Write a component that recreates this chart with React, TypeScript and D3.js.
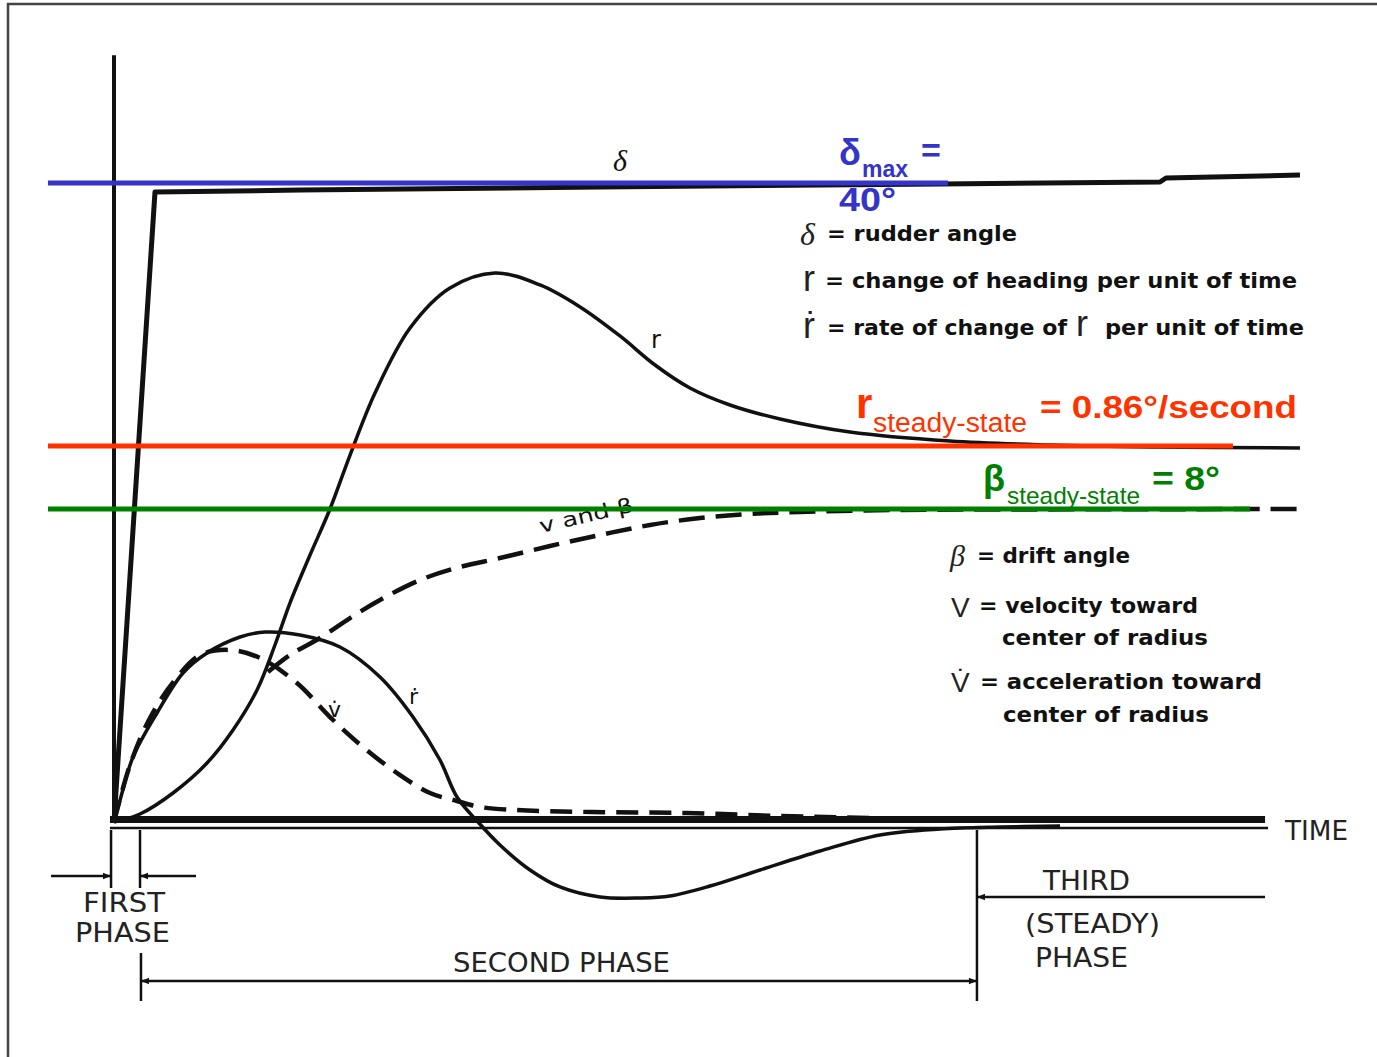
import React from 'react';
import * as d3 from 'd3';

const W = 1377;
const H = 1057;

// time (s, 0..100) and response in % of full scale (rudder max = 100)
const rudderT = [0, 3.45, 15.66, 40.91, 69.53, 88.05, 88.55, 99.83];
const rudderV = [0, 98.59, 98.9, 99.37, 99.84, 100.16, 100.78, 101.25];

const rT = [0, 2.19, 4.97, 7.83, 10.02, 12.04, 13.55, 14.81, 16.5, 18.18, 19.87, 21.97, 24.92, 28.28, 32.07, 35.86, 39.23, 42.59, 45.54, 48.48, 51.85, 56.06, 61.95, 70.37, 78.79, 87.21, 99.83];
const rV = [0, 1.25, 4.54, 9.23, 14.4, 20.66, 27.7, 34.27, 41.78, 48.98, 57.43, 67.14, 77.31, 83.57, 85.92, 84.04, 80.6, 76.06, 71.52, 67.92, 65.26, 63.07, 61.03, 59.62, 59.0, 58.69, 58.53];

const rDotT = [0, 0.51, 1.6, 3.62, 5.81, 7.83, 10.61, 12.71, 15.66, 19.02, 22.39, 25.17, 27.44, 28.87, 30.64, 32.49, 35.02, 37.54, 40.91, 44.28, 46.8, 50.17, 54.38, 59.43, 64.48, 69.53, 74.58, 79.63];
const rDotV = [0, 3.44, 10.17, 17.06, 23.32, 26.45, 28.95, 29.73, 29.26, 27.39, 22.69, 16.43, 9.7, 3.91, 0, -3.6, -7.51, -10.17, -11.74, -11.89, -11.58, -10.02, -7.51, -4.54, -2.03, -1.1, -0.78, -0.63];

const vDotT = [0, 1.35, 3.03, 5.13, 7.24, 9.76, 12.29, 15.4, 18.18, 20.96, 23.82, 26.6, 28.87, 30.81, 33.75, 40.24, 48.23, 56.06, 63.64, 71.21];
const vDotV = [0, 8.92, 16.28, 22.22, 26.13, 26.92, 25.67, 21.75, 16.43, 11.74, 7.67, 4.54, 3.29, 2.35, 1.88, 1.56, 1.41, 0.94, 0.63, 0.47];

const vBetaT = [12.96, 14.81, 17.34, 19.87, 22.39, 25.76, 29.12, 32.49, 36.7, 40.91, 45.12, 49.33, 53.54, 57.74, 66.16, 74.58, 99.83];
const vBetaV = [23.47, 26.13, 28.8, 31.92, 34.74, 37.87, 39.91, 41.31, 43.19, 44.91, 46.48, 47.57, 48.2, 48.51, 48.83, 48.9, 48.98];

// steady-state reference lines: level, start time, end time
const refLevels = [100, 58.84, 48.98];
const refStart = [-5.56, -5.56, -5.56];
const refEnd = [70.2, 94.19, 95.62];
const refColors = ['#3434c8', '#ff3300', '#008000'];

// phase boundaries (time)
const phaseT = [-0.25, 2.19, 2.27, 72.64];
const axisT = [-0.34, 96.89];
const yAxisTop = 120;

export default function App() {
  const x = d3.scaleLinear().domain([0, 100]).range([114, 1302]);
  const y = d3.scaleLinear().domain([0, 100]).range([822, 183]);

  const mk = (ts: number[], vs: number[], curve: any = d3.curveCatmullRom.alpha(0.5)) =>
    d3
      .line<number>()
      .x((i) => x(ts[i]))
      .y((i) => y(vs[i]))
      .curve(curve)(ts.map((_, i) => i)) as string;

  const base = y(0);
  const ink = '#111';

  return (
    <svg
      width={W}
      height={H}
      viewBox={`0 0 ${W} ${H}`}
      style={{ position: 'absolute', left: 0, top: 0, background: '#fff' }}
    >
      <defs>
        <marker id="arr" viewBox="0 0 10 10" refX="10" refY="5" markerWidth="12" markerHeight="8" markerUnits="userSpaceOnUse" orient="auto-start-reverse">
          <path d="M0,1 L10,5 L0,9 z" fill={ink} />
        </marker>
      </defs>
      <rect x={0} y={0} width={W} height={H} fill="#fff" />
      {/* frame */}
      <line x1={8} y1={3} x2={8} y2={H} stroke="#444" strokeWidth={2.5} />
      <line x1={7} y1={4} x2={W} y2={4} stroke="#444" strokeWidth={2.5} />

      {/* axes */}
      <line x1={x(0)} y1={y(yAxisTop)} x2={x(0)} y2={base} stroke={ink} strokeWidth={4} />
      <line x1={x(axisT[0])} y1={base - 2.5} x2={x(axisT[1])} y2={base - 2.5} stroke={ink} strokeWidth={7} />
      <line x1={x(axisT[0])} y1={base + 6} x2={x(axisT[1]) + 3} y2={base + 6} stroke={ink} strokeWidth={2.5} />

      {/* curves */}
      <path d={mk(rudderT, rudderV, d3.curveLinear)} fill="none" stroke={ink} strokeWidth={5} strokeLinejoin="round" />
      <path d={mk(rT, rV)} fill="none" stroke={ink} strokeWidth={3.5} />
      <path d={mk(rDotT, rDotV)} fill="none" stroke={ink} strokeWidth={3.5} />
      <path d={mk(vDotT, vDotV)} fill="none" stroke={ink} strokeWidth={4.5} strokeDasharray="22 11" />
      <path d={mk(vBetaT, vBetaV)} fill="none" stroke={ink} strokeWidth={4.5} strokeDasharray="26 11" />

      {/* curve labels */}
      <text x={613} y={171} fontFamily="Liberation Serif" fontStyle="italic" fontSize={30} fill={ink}>δ</text>
      <text x={651} y={348} fontFamily="DejaVu Sans" fontSize={24} fill={ink}>r</text>
      <text x={409} y={704} fontFamily="DejaVu Sans" fontSize={22} fill={ink}>ṙ</text>
      <text x={328} y={717} fontFamily="DejaVu Sans" fontSize={22} fill={ink}>v̇</text>
      <text x={541} y={533} fontFamily="DejaVu Sans" fontSize={20} fill={ink} transform="rotate(-13 541 533)" textLength={96} lengthAdjust="spacingAndGlyphs">v and β</text>

      {/* reference lines */}
      {refLevels.map((lv, i) => (
        <line key={i} x1={x(refStart[i])} x2={x(refEnd[i])} y1={y(lv)} y2={y(lv)} stroke={refColors[i]} strokeWidth={5} />
      ))}

      {/* colored annotations */}
      <g fontFamily="Liberation Sans, Arial, sans-serif" fontWeight="bold">
        <text x={839} y={165} fontSize={36} fill={refColors[0]}>δ</text>
        <text x={862} y={177} fontSize={23} fill={refColors[0]}>max</text>
        <text x={921} y={162} fontSize={34} fill={refColors[0]}>=</text>
        <text x={839} y={211} fontSize={33} fill={refColors[0]} textLength={57} lengthAdjust="spacingAndGlyphs">40°</text>

        <text x={856} y={418} fontSize={42} fill={refColors[1]}>r</text>
        <text x={873} y={432} fontSize={27} fontWeight="normal" fill={refColors[1]} textLength={154} lengthAdjust="spacingAndGlyphs">steady-state</text>
        <text x={1040} y={418} fontSize={32} fill={refColors[1]} textLength={257} lengthAdjust="spacingAndGlyphs">= 0.86°/second</text>

        <text x={983} y={491} fontSize={36} fill={refColors[2]}>β</text>
        <text x={1007} y={504} fontSize={24} fontWeight="normal" fill={refColors[2]} textLength={133} lengthAdjust="spacingAndGlyphs">steady-state</text>
        <text x={1152} y={490} fontSize={33} fill={refColors[2]} textLength={68} lengthAdjust="spacingAndGlyphs">= 8°</text>
      </g>

      {/* legend symbols */}
      <g fill="#222">
        <text x={800} y={245} fontFamily="Liberation Serif" fontStyle="italic" fontSize={32}>δ</text>
        <text x={803} y={291} fontFamily="Liberation Sans" fontSize={36}>r</text>
        <text x={803} y={338} fontFamily="Liberation Sans" fontSize={36}>ṙ</text>
        <text x={1076} y={336} fontFamily="Liberation Sans" fontSize={36}>r</text>
        <text x={950} y={566} fontFamily="Liberation Serif" fontStyle="italic" fontSize={30}>β</text>
        <text x={951} y={617} fontFamily="Liberation Sans" fontSize={28}>V</text>
        <text x={951} y={692} fontFamily="Liberation Sans" fontSize={28}>V̇</text>
      </g>

      {/* legend text */}
      <g fontFamily="DejaVu Sans, Verdana, sans-serif" fontWeight="bold" fontSize={22} fill={ink}>
        <text x={827} y={241} textLength={190} lengthAdjust="spacingAndGlyphs">= rudder angle</text>
        <text x={825} y={288} textLength={472} lengthAdjust="spacingAndGlyphs">= change of heading per unit of time</text>
        <text x={827} y={335} textLength={240} lengthAdjust="spacingAndGlyphs">= rate of change of</text>
        <text x={1105} y={335} textLength={199} lengthAdjust="spacingAndGlyphs">per unit of time</text>
        <text x={977} y={563} textLength={153} lengthAdjust="spacingAndGlyphs">= drift angle</text>
        <text x={979} y={613} textLength={219} lengthAdjust="spacingAndGlyphs">= velocity toward</text>
        <text x={1002} y={645} textLength={206} lengthAdjust="spacingAndGlyphs">center of radius</text>
        <text x={980} y={689} textLength={282} lengthAdjust="spacingAndGlyphs">= acceleration toward</text>
        <text x={1003} y={722} textLength={206} lengthAdjust="spacingAndGlyphs">center of radius</text>
      </g>

      {/* phase annotations */}
      <g stroke={ink} strokeWidth={2.5} fill="none">
        <line x1={x(phaseT[0])} y1={base + 8} x2={x(phaseT[0])} y2={base + 66} />
        <line x1={x(phaseT[1])} y1={base + 8} x2={x(phaseT[1])} y2={base + 66} />
        <line x1={x(phaseT[0]) - 60} y1={876} x2={x(phaseT[0])} y2={876} markerEnd="url(#arr)" />
        <line x1={x(phaseT[1]) + 56} y1={876} x2={x(phaseT[1])} y2={876} markerEnd="url(#arr)" />
        <line x1={x(phaseT[2])} y1={953} x2={x(phaseT[2])} y2={1001} />
        <line x1={x(phaseT[2])} y1={981} x2={x(phaseT[3])} y2={981} markerStart="url(#arr)" markerEnd="url(#arr)" />
        <line x1={x(phaseT[3])} y1={base + 8} x2={x(phaseT[3])} y2={1001} />
        <line x1={x(axisT[1])} y1={897} x2={x(phaseT[3])} y2={897} markerEnd="url(#arr)" />
      </g>
      <g fontFamily="DejaVu Sans, sans-serif" fontSize={27} fill="#222">
        <text x={83} y={912} textLength={82} lengthAdjust="spacingAndGlyphs">FIRST</text>
        <text x={75} y={942} textLength={95} lengthAdjust="spacingAndGlyphs">PHASE</text>
        <text x={453} y={972} textLength={217} lengthAdjust="spacingAndGlyphs">SECOND PHASE</text>
        <text x={1043} y={890} textLength={87} lengthAdjust="spacingAndGlyphs">THIRD</text>
        <text x={1025} y={933} textLength={135} lengthAdjust="spacingAndGlyphs">(STEADY)</text>
        <text x={1035} y={967} textLength={93} lengthAdjust="spacingAndGlyphs">PHASE</text>
        <text x={1285} y={840} textLength={63} lengthAdjust="spacingAndGlyphs">TIME</text>
      </g>
    </svg>
  );
}
